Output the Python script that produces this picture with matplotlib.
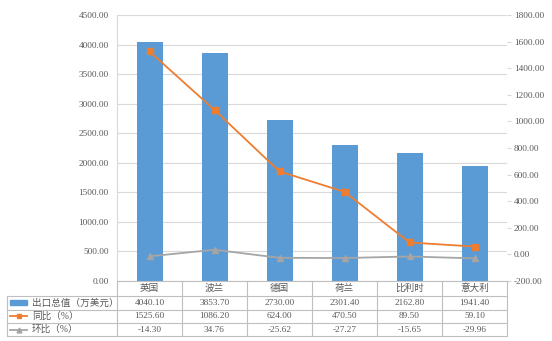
import numpy as np
import matplotlib
matplotlib.use("Agg")
import matplotlib.pyplot as plt
from matplotlib.lines import Line2D
from matplotlib.patches import Rectangle

plt.rcParams['font.family'] = ['Liberation Serif', 'Noto Sans CJK SC']

countries = ["英国", "波兰", "德国", "荷兰", "比利时", "意大利"]
export_total = [4040.10, 3853.70, 2730.00, 2301.40, 2162.80, 1941.40]
yoy = [1525.60, 1086.20, 624.00, 470.50, 89.50, 59.10]
mom = [-14.30, 34.76, -25.62, -27.27, -15.65, -29.96]
row_names = ["出口总值（万美元）", "同比（%）", "环比（%）"]

blue = "#5B9BD5"
orange = "#ED7D31"
gray = "#A5A5A5"
txt = "#595959"
grid = "#D9D9D9"
fs = 6.7
fs_cn = 6.9

W, H = 552, 341
fig = plt.figure(figsize=(W / 100, H / 100), dpi=100)

x_left, x_right, y_top, y_bot = 117, 507, 15, 281
ax = fig.add_axes([x_left / W, 1 - y_bot / H, (x_right - x_left) / W, (y_bot - y_top) / H])
x = np.arange(len(countries))
ax.bar(x, export_total, width=0.4, color=blue, zorder=2)
ax.set_xlim(-0.5, len(countries) - 0.5)
ax.set_ylim(0, 4500)
ax.set_yticks(np.arange(0, 4501, 500))
ax.set_yticklabels([f"{v:.2f}" for v in np.arange(0, 4501, 500)])
ax.set_xticks([])
ax.yaxis.grid(True, color=grid, linewidth=0.8, zorder=0)
ax.set_axisbelow(True)
for s in ["top", "right", "bottom"]:
    ax.spines[s].set_visible(False)
ax.spines["left"].set_color(grid)
ax.tick_params(axis="y", length=0, labelsize=fs, labelcolor=txt, pad=6)

ax2 = ax.twinx()
ax2.plot(x, yoy, color=orange, marker="s", markersize=4, linewidth=1.3, zorder=3)
ax2.plot(x, mom, color=gray, marker="^", markersize=4, linewidth=1.3, zorder=3)
ax2.set_ylim(-200, 1800)
ax2.set_yticks(np.arange(-200, 1801, 200))
ax2.set_yticklabels([f"{v:.2f}" for v in np.arange(-200, 1801, 200)])
for s in ["top", "right", "bottom", "left"]:
    ax2.spines[s].set_visible(False)
ax2.tick_params(axis="y", length=3, color=grid, labelsize=fs, labelcolor=txt, pad=2)

# data table below the plot
tab = fig.add_axes([0, 0, 1, 1], zorder=5)
tab.set_xlim(0, W)
tab.set_ylim(H, 0)
tab.axis("off")
tab.patch.set_alpha(0)

n = len(countries)
cw = (x_right - x_left) / n
rows_y = [281, 296, 309.5, 323, 336]
t_left = 7
lc = "#BFBFBF"
lw = 0.8

# horizontal lines
tab.plot([x_left, x_right], [rows_y[0], rows_y[0]], color=lc, lw=lw)
for yy in rows_y[1:]:
    tab.plot([t_left, x_right], [yy, yy], color=lc, lw=lw)
# vertical lines
for k in range(n + 1):
    xx = x_left + k * cw
    tab.plot([xx, xx], [rows_y[0], rows_y[-1]], color=lc, lw=lw)
tab.plot([t_left, t_left], [rows_y[1], rows_y[-1]], color=lc, lw=lw)

for k, c in enumerate(countries):
    tab.text(x_left + (k + 0.5) * cw, (rows_y[0] + rows_y[1]) / 2, c,
             ha="center", va="center", fontsize=fs_cn, color=txt)

series = [export_total, yoy, mom]
for r, vals in enumerate(series):
    yc = (rows_y[r + 1] + rows_y[r + 2]) / 2
    for k, v in enumerate(vals):
        tab.text(x_left + (k + 0.5) * cw, yc, f"{v:.2f}",
                 ha="center", va="center", fontsize=fs, color=txt)
    tab.text(32, yc, row_names[r], ha="left", va="center", fontsize=fs_cn, color=txt)

# legend keys
yc0 = (rows_y[1] + rows_y[2]) / 2
tab.add_patch(Rectangle((10, yc0 - 2.5), 17, 5, color=blue))
yc1 = (rows_y[2] + rows_y[3]) / 2
tab.add_line(Line2D([10, 27], [yc1, yc1], color=orange, lw=1.3))
tab.plot([18.5], [yc1], marker="s", color=orange, markersize=3.5)
yc2 = (rows_y[3] + rows_y[4]) / 2
tab.add_line(Line2D([10, 27], [yc2, yc2], color=gray, lw=1.3))
tab.plot([18.5], [yc2], marker="^", color=gray, markersize=3.5)

fig.savefig("out.png", dpi=100)
